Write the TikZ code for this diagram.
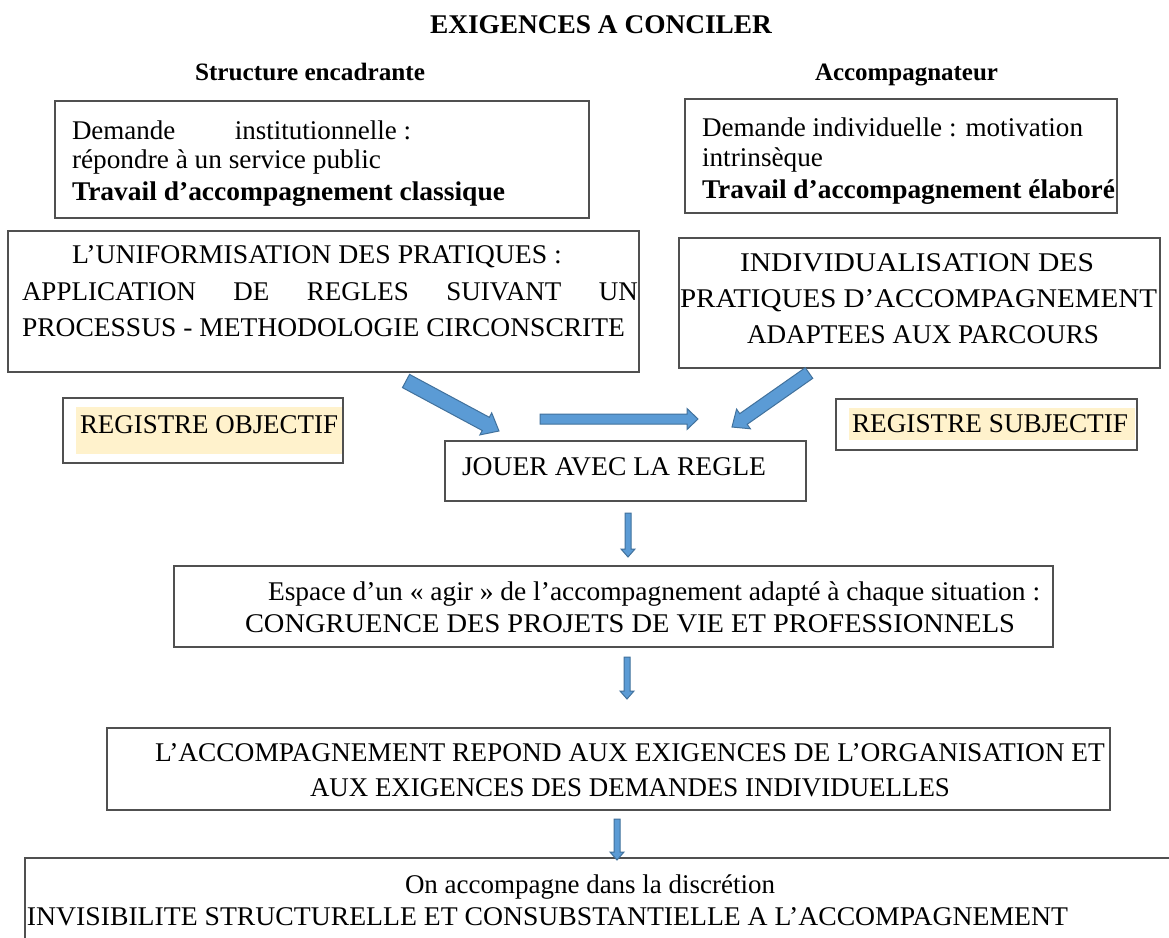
\documentclass[tikz,border=0pt]{standalone}
\usepackage{fontspec}
\setmainfont{Liberation Serif}
\usetikzlibrary{calc,fit}
\definecolor{arrowfill}{HTML}{5B9BD5}
\definecolor{arrowdraw}{HTML}{41719C}
\definecolor{hilite}{HTML}{FFF2CC}
\definecolor{boxline}{HTML}{505050}
\newcommand\hw[2]{\resizebox{#1pt}{\height}{#2}}
\newcommand\sw[2]{\makebox[#1pt][s]{#2}}
% #1 tail, #2 tip, #3 half shaft, #4 half head, #5 head length
\newcommand\blockarrow[5]{%
  \coordinate (#1-h) at ($(#2)!#5!(#1)$);
  \draw[barrow] ($(#1)!#3!90:(#2)$) -- ($(#1-h)!#3!90:(#2)$) -- ($(#1-h)!#4!90:(#2)$)
    -- (#2) -- ($(#1-h)!#4!-90:(#2)$) -- ($(#1-h)!#3!-90:(#2)$) -- ($(#1)!#3!-90:(#2)$) -- cycle;}
\begin{document}
\begin{tikzpicture}[x=1pt,y=-1pt,
  box/.style={draw=boxline, line width=1.3pt, inner sep=0pt, outer sep=0pt},
  txt/.style={inner sep=0pt, outer sep=0pt, anchor=base west, font=\fontsize{27}{30}\selectfont},
  hd/.style={txt, font=\fontsize{25}{28}\selectfont\bfseries},
  barrow/.style={fill=arrowfill, draw=arrowdraw, line width=1pt, line join=miter}]
\useasboundingbox (0,0) rectangle (1169,937);
\fill[white] (0,0) rectangle (1169,937);

% headings
\node[txt, font=\fontsize{27}{30}\selectfont\bfseries] (title) at (430,33) {\hw{342}{EXIGENCES A CONCILER}};
\node[hd] (hleft) at (195,80) {\hw{230}{Structure encadrante}};
\node[hd] (hright) at (815,80) {\hw{183}{Accompagnateur}};

% boxes
\node[box, fit={(55,101)(589,218)}] (b1) {};
\node[box, fit={(685,99)(1117,213)}] (b2) {};
\node[box, fit={(8,231)(639,372)}] (b3) {};
\node[box, fit={(679,238)(1160,368)}] (b4) {};
\node[box, fit={(63,398)(343,463)}] (ro) {};
\fill[hilite] (76,407) rectangle (342,454);
\node[box, fit={(836,399)(1137,450)}] (rs) {};
\fill[hilite] (849,408) rectangle (1135,440);
\node[box, fit={(445,441)(806,501)}] (jr) {};
\node[box, fit={(174,566)(1053,647)}] (b8) {};
\node[box, fit={(107,728)(1110,810)}] (b9) {};
\node[box, fit={(25,858)(1200,960)}] (b10) {};

% box 1
\node[txt] (b1a) at (72,139) {\hbox to 339pt{Demande\hfill institutionnelle :}};
\node[txt] (b1b) at (72,168) {\hw{309}{répondre à un service public}};
\node[txt] (b1c) at (72,200) {\hw{433}{\bfseries Travail d’accompagnement classique}};
% box 2
\node[txt] (b2a) at (702,136) {\hw{381}{Demande individuelle : motivation}};
\node[txt] (b2b) at (702,166) {\hw{121}{intrinsèque}};
\node[txt] (b2c) at (702,198) {\hw{413}{\bfseries Travail d’accompagnement élaboré}};
% box 3
\node[txt] (b3a) at (72,263) {\hw{490}{L’UNIFORMISATION DES PRATIQUES :}};
\node[txt] (b3b) at (22,300) {\sw{616}{APPLICATION DE REGLES SUIVANT UN}};
\node[txt] (b3c) at (22,336) {\hw{603}{PROCESSUS - METHODOLOGIE CIRCONSCRITE}};
% box 4
\node[txt] (b4a) at (740,271) {\hw{354}{INDIVIDUALISATION DES}};
\node[txt] (b4b) at (680,307) {\hw{477}{PRATIQUES D’ACCOMPAGNEMENT}};
\node[txt] (b4c) at (747,343) {\hw{352}{ADAPTEES AUX PARCOURS}};
% registres
\node[txt] (roa) at (80,433) {\hw{258}{REGISTRE OBJECTIF}};
\node[txt] (rsa) at (852,432) {\hw{276}{REGISTRE SUBJECTIF}};
% jouer
\node[txt] (jra) at (462,475) {\hw{304}{JOUER AVEC LA REGLE}};
% box 8
\node[txt] (b8a) at (268,600) {\hw{772}{Espace d’un « agir » de l’accompagnement adapté à chaque situation :}};
\node[txt] (b8b) at (245,632) {\hw{770}{CONGRUENCE DES PROJETS DE VIE ET PROFESSIONNELS}};
% box 9
\node[txt] (b9a) at (155,761) {\hw{950}{L’ACCOMPAGNEMENT REPOND AUX EXIGENCES DE L’ORGANISATION ET}};
\node[txt] (b9b) at (310,796) {\hw{640}{AUX EXIGENCES DES DEMANDES INDIVIDUELLES}};
% box 10
\node[txt] (b10a) at (405,893) {\hw{370}{On accompagne dans la discrétion}};
\node[txt] (b10b) at (27,925) {\hw{1041}{INVISIBILITE STRUCTURELLE ET CONSUBSTANTIELLE A L’ACCOMPAGNEMENT}};

% block arrows
\coordinate (a1s) at (406,381); \coordinate (a1e) at (499,431);
\coordinate (a2s) at (540,419); \coordinate (a2e) at (698,419);
\coordinate (a3s) at (809,373); \coordinate (a3e) at (732,427);
\blockarrow{a1s}{a1e}{7.5pt}{12.5pt}{15pt}
\blockarrow{a2s}{a2e}{5pt}{10.5pt}{11pt}
\blockarrow{a3s}{a3e}{6.5pt}{12pt}{14pt}

% small vertical arrows
\coordinate (v1s) at (628,513); \coordinate (v1e) at (628,557);
\coordinate (v2s) at (627,657); \coordinate (v2e) at (627,699);
\coordinate (v3s) at (617,819); \coordinate (v3e) at (617,860);
\blockarrow{v1s}{v1e}{3pt}{7pt}{8pt}
\blockarrow{v2s}{v2e}{3pt}{7pt}{8pt}
\blockarrow{v3s}{v3e}{3pt}{7pt}{8pt}
\end{tikzpicture}
\end{document}
